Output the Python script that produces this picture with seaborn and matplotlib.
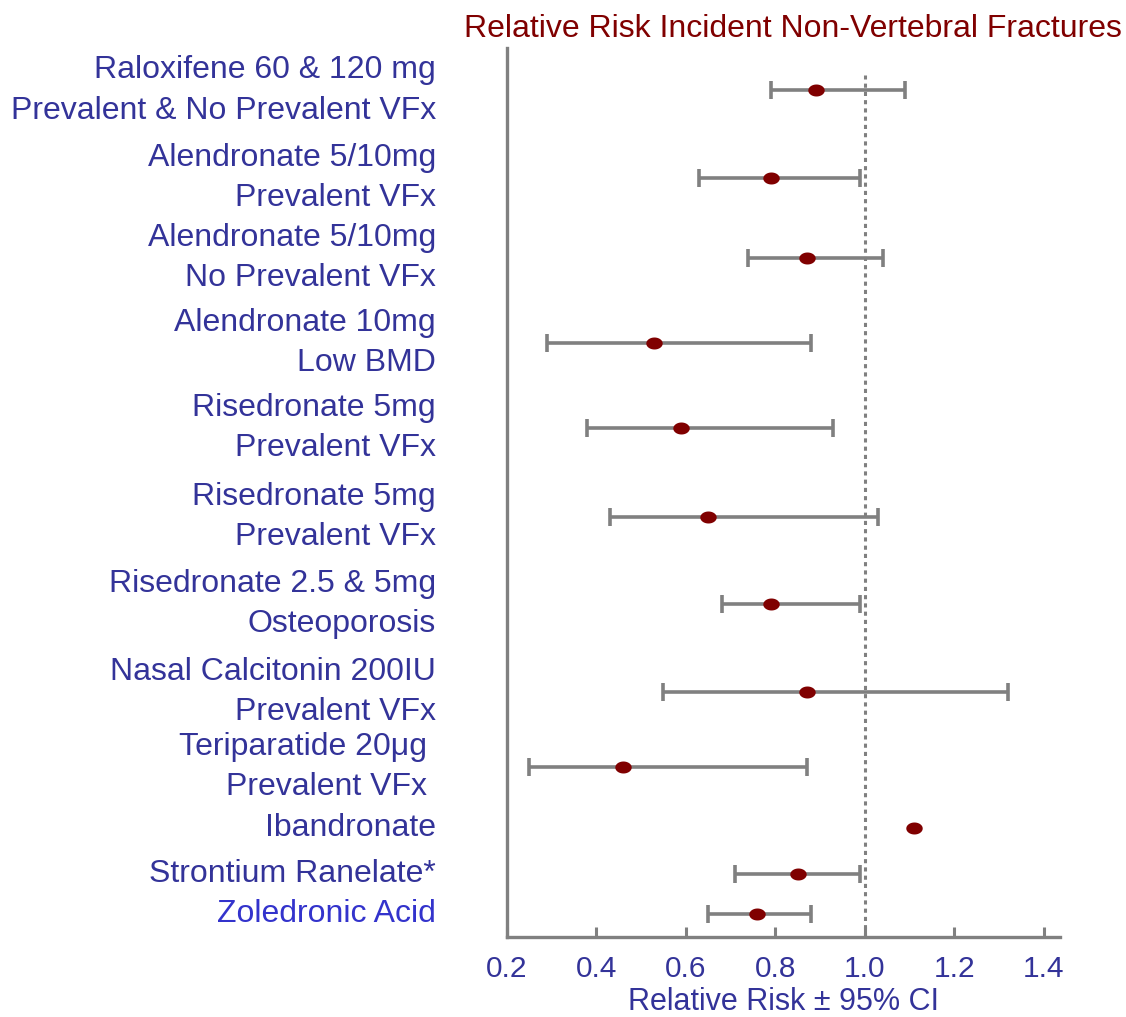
import numpy as np
import pandas as pd
import matplotlib
matplotlib.use("Agg")
import matplotlib.pyplot as plt
import matplotlib.transforms as mtransforms
from matplotlib.path import Path
import seaborn as sns

# data
labels = ["Raloxifene 60 & 120 mg\nPrevalent & No Prevalent VFx",
          "Alendronate 5/10mg\nPrevalent VFx",
          "Alendronate 5/10mg\nNo Prevalent VFx",
          "Alendronate 10mg\nLow BMD",
          "Risedronate 5mg\nPrevalent VFx",
          "Risedronate 5mg\nPrevalent VFx",
          "Risedronate 2.5 & 5mg\nOsteoporosis",
          "Nasal Calcitonin 200IU\nPrevalent VFx",
          "Teriparatide 20\u03bcg \nPrevalent VFx ",
          "Ibandronate",
          "Strontium Ranelate*",
          "Zoledronic Acid"]
rr = [0.89, 0.79, 0.87, 0.53, 0.59, 0.65, 0.79, 0.87, 0.46, 1.11, 0.85, 0.76]
ci_low = [0.79, 0.63, 0.74, 0.29, 0.38, 0.43, 0.68, 0.55, 0.25, np.nan, 0.71, 0.65]
ci_high = [1.09, 0.99, 1.04, 0.88, 0.93, 1.03, 0.99, 1.32, 0.87, np.nan, 0.99, 0.88]
xticks = [0.2, 0.4, 0.6, 0.8, 1.0, 1.2, 1.4]

# vertical layout of rows (rows are not evenly spaced in the original)
row_pos = [90, 178, 258, 343, 428, 517, 604, 692, 767, 828, 874, 914]

df = pd.DataFrame({"label": labels, "rr": rr, "lo": ci_low, "hi": ci_high, "y": row_pos})

sns.set_style("white")
plt.rcParams["font.family"] = ["Liberation Sans", "DejaVu Sans"]

blue = "#333399"
red = "#800000"
grey = "#808080"

fig = plt.figure(figsize=(11.26, 10.17), dpi=100)
ax = fig.add_axes([0.450, 0.0787, 0.491, 0.874])

# confidence intervals
ci = df.dropna()
ax.errorbar(ci.rr, ci.y, xerr=[ci.rr - ci.lo, ci.hi - ci.rr], fmt="none",
            ecolor=grey, elinewidth=2.6, capsize=6.5, capthick=2.6, zorder=2)

# reference line at RR = 1
ax.axvline(1.0, color=grey, lw=2.2, ls=(0, (1.35, 1.35)), ymax=0.97, zorder=1)

# ellipse shaped point estimates
t = np.linspace(0, 2 * np.pi, 60)
ell = Path(np.column_stack([np.cos(t), 0.73 * np.sin(t)]), closed=True)
sns.scatterplot(data=df, x="rr", y="y", marker=ell, s=140, color=red,
                edgecolor=red, linewidth=0, zorder=3, ax=ax)

ax.set_xlim(0.2, 1.435)
ax.set_ylim(937, 48)
ax.set_xticks(xticks)
ax.set_xticklabels([f"{v:.1f}" for v in xticks])
ax.set_yticks([])
ax.set_ylabel("")
ax.set_xlabel("Relative Risk \u00b1 95% CI", color=blue, fontsize=22, labelpad=3)
ax.tick_params(axis="x", bottom=True, direction="in", length=7, width=2.2,
               color=grey, labelcolor=blue, labelsize=21.5, pad=13)

for s in ["top", "right"]:
    ax.spines[s].set_visible(False)
for s in ["left", "bottom"]:
    ax.spines[s].set_color(grey)
    ax.spines[s].set_linewidth(2.4)

# row labels right-aligned left of the axis
trans = mtransforms.blended_transform_factory(fig.transFigure, ax.transData)
for i, row in df.iterrows():
    col = "#3333CC" if row.label == "Zoledronic Acid" else blue
    ax.text(0.387, row.y, row.label, transform=trans, ha="right", va="center",
            color=col, fontsize=23, linespacing=1.47)

fig.text(0.7043, 0.971, "Relative Risk Incident Non-Vertebral Fractures",
         ha="center", va="center", color=red, fontsize=23)

fig.savefig("out.png", dpi=100)
